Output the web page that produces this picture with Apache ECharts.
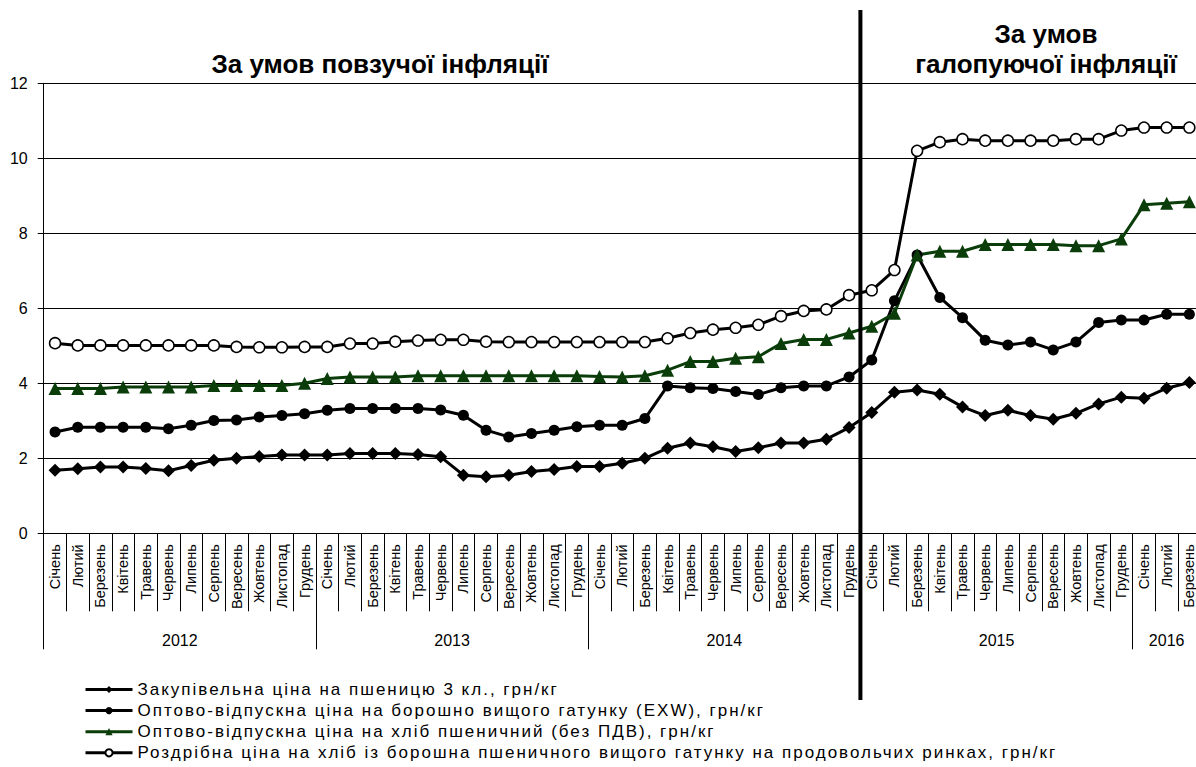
<!DOCTYPE html>
<html>
<head>
<meta charset="utf-8">
<script src="https://cdn.jsdelivr.net/npm/echarts@6/dist/echarts.min.js"></script>
<style>
html,body{margin:0;padding:0;background:#fff;}
#c{width:1196px;height:767px;}
</style>
</head>
<body>
<div id="c"></div>
<script>
var monthNames = ['Січень','Лютий','Березень','Квітень','Травень','Червень','Липень','Серпень','Вересень','Жовтень','Листопад','Грудень'];
var years = ['2012','2013','2014','2015','2016'];
var monthsPerYear = [12, 12, 12, 12, 3];
var yTicks = [0, 2, 4, 6, 8, 10, 12];

var seriesNames = [
  'Закупівельна ціна на пшеницю 3 кл., грн/кг',
  'Оптово-відпускна ціна на борошно вищого гатунку (EXW), грн/кг',
  'Оптово-відпускна ціна на хліб пшеничний (без ПДВ), грн/кг',
  'Роздрібна ціна на хліб із борошна пшеничного вищого гатунку на продовольчих ринках, грн/кг'
];

var wheat = [
  1.68, 1.72, 1.77, 1.77, 1.73, 1.67, 1.81, 1.95, 2.00, 2.05, 2.09, 2.09,
  2.09, 2.13, 2.13, 2.13, 2.10, 2.04, 1.55, 1.51, 1.55, 1.65, 1.70, 1.78,
  1.78, 1.87, 2.00, 2.27, 2.41, 2.31, 2.18, 2.28, 2.41, 2.41, 2.51, 2.82,
  3.22, 3.76, 3.82, 3.71, 3.37, 3.14, 3.28, 3.14, 3.04, 3.20, 3.45, 3.63,
  3.60, 3.87, 4.02
];
var flour = [
  2.70, 2.83, 2.83, 2.83, 2.83, 2.79, 2.88, 3.01, 3.02, 3.10, 3.14, 3.19,
  3.28, 3.33, 3.33, 3.33, 3.33, 3.29, 3.15, 2.75, 2.57, 2.66, 2.75, 2.84,
  2.88, 2.88, 3.06, 3.93, 3.88, 3.86, 3.78, 3.70, 3.88, 3.93, 3.93, 4.17,
  4.62, 6.20, 7.42, 6.29, 5.75, 5.15, 5.02, 5.10, 4.89, 5.10, 5.62, 5.69,
  5.69, 5.84, 5.84
];
var breadWholesale = [
  3.86, 3.86, 3.86, 3.90, 3.90, 3.90, 3.90, 3.94, 3.94, 3.94, 3.94, 4.00,
  4.13, 4.17, 4.17, 4.17, 4.20, 4.20, 4.20, 4.20, 4.20, 4.20, 4.20, 4.20,
  4.18, 4.17, 4.20, 4.35, 4.58, 4.58, 4.67, 4.71, 5.06, 5.17, 5.17, 5.34,
  5.52, 5.87, 7.42, 7.52, 7.52, 7.70, 7.70, 7.70, 7.70, 7.67, 7.67, 7.85,
  8.76, 8.80, 8.84
];
var breadRetail = [
  5.07, 5.01, 5.01, 5.01, 5.01, 5.01, 5.01, 5.01, 4.97, 4.96, 4.96, 4.97,
  4.97, 5.06, 5.06, 5.11, 5.14, 5.16, 5.16, 5.11, 5.10, 5.10, 5.10, 5.10,
  5.10, 5.10, 5.10, 5.20, 5.34, 5.43, 5.48, 5.56, 5.79, 5.93, 5.97, 6.35,
  6.48, 7.02, 10.20, 10.43, 10.51, 10.47, 10.47, 10.47, 10.47, 10.51, 10.51, 10.74,
  10.82, 10.82, 10.82
];

var titleLeft = 'За умов повзучої інфляції';
var titleRight = 'За умов\nгалопуючої інфляції';
var dividerAfterYears = 3; // divider placed after 2014

// build categories
var categories = [];
monthsPerYear.forEach(function (n) {
  for (var i = 0; i < n; i++) categories.push(monthNames[i]);
});
var total = categories.length;
var yearBounds = [0];
var yearCenters = [];
var acc = 0;
monthsPerYear.forEach(function (n) {
  yearCenters.push(acc + n / 2);
  acc += n;
  yearBounds.push(acc);
});

var FONT = 'Liberation Sans, Arial, sans-serif';

var chart = echarts.init(document.getElementById('c'), null, {renderer: 'svg'});

function lineSeries(name, data, color, symbol, size, fill, borderW) {
  return {
    name: name,
    type: 'line',
    data: data,
    xAxisIndex: 0,
    symbol: symbol,
    symbolSize: size,
    showAllSymbol: true,
    animation: false,
    lineStyle: {color: color, width: 3},
    itemStyle: {color: fill, borderColor: color, borderWidth: borderW},
    emphasis: {disabled: true}
  };
}

chart.setOption({
  animation: false,
  backgroundColor: '#fff',
  textStyle: {fontFamily: FONT},
  title: [
    {
      text: titleLeft, left: 375, top: 46, textAlign: 'center',
      textStyle: {fontFamily: FONT, fontSize: 26, fontWeight: 'bold', color: '#000'}
    },
    {
      text: titleRight, left: 1041, top: 14, textAlign: 'center',
      textStyle: {fontFamily: FONT, fontSize: 26, fontWeight: 'bold', color: '#000', lineHeight: 30}
    }
  ],
  legend: {
    orient: 'vertical',
    left: 84,
    top: 681,
    height: 110,
    padding: 0,
    itemWidth: 47,
    itemHeight: 9,
    itemGap: 4.1,
    lineStyle: {width: 3},
    textStyle: {fontFamily: FONT, fontSize: 17, lineHeight: 15, color: '#000'},
    data: seriesNames
  },
  grid: {left: 43.7, width: 1157, top: 83.3, bottom: 233.7, containLabel: false, outerBoundsMode: 'none'},
  xAxis: [
    {
      type: 'category',
      data: categories,
      boundaryGap: true,
      position: 'bottom',
      axisLine: {show: true, lineStyle: {color: '#000', width: 1}},
      axisTick: {show: true, length: 78, interval: 0, lineStyle: {color: '#000', width: 1}},
      axisLabel: {
        interval: 0, rotate: 90, margin: 11,
        fontFamily: FONT, fontSize: 14.5, color: '#000'
      },
      splitLine: {show: false}
    },
    {
      type: 'value',
      min: 0,
      max: total,
      position: 'bottom',
      axisLine: {show: false},
      axisTick: {show: true, length: 116, customValues: yearBounds, lineStyle: {color: '#000', width: 1}},
      axisLabel: {
        show: true, margin: 99, customValues: yearCenters,
        fontFamily: FONT, fontSize: 16, color: '#000',
        formatter: function (v) {
          var i = yearCenters.indexOf(v);
          return i >= 0 ? years[i] : '';
        }
      },
      splitLine: {show: false}
    }
  ],
  yAxis: {
    type: 'value',
    min: yTicks[0],
    max: yTicks[yTicks.length - 1],
    interval: 2,
    axisLine: {show: true, lineStyle: {color: '#000', width: 1}},
    axisTick: {show: true, length: 6, lineStyle: {color: '#000'}},
    axisLabel: {fontFamily: FONT, fontSize: 16, color: '#000', margin: 16},
    splitLine: {show: true, lineStyle: {color: '#000', width: 1}}
  },
  series: [
    lineSeries(seriesNames[0], wheat, '#000', 'diamond', 13, '#000', 0),
    lineSeries(seriesNames[1], flour, '#000', 'circle', 11, '#000', 0),
    lineSeries(seriesNames[2], breadWholesale, '#0a3d0a', 'triangle', 13, '#0a3d0a', 0),
    lineSeries(seriesNames[3], breadRetail, '#000', 'circle', 11, '#fff', 1.5)
  ]
});

var divX = chart.convertToPixel({xAxisIndex: 1}, yearBounds[dividerAfterYears]);
chart.setOption({
  graphic: [{
    type: 'line',
    z: 100,
    shape: {x1: divX, y1: 10, x2: divX, y2: 700},
    style: {stroke: '#000', lineWidth: 4}
  }]
});

// widen legend text spacing to match the reference typesetting
function spaceLegend() {
  var texts = document.querySelectorAll('#c svg text');
  texts.forEach(function (t) {
    if (seriesNames.indexOf(t.textContent) >= 0) {
      t.style.letterSpacing = '2px';
    }
  });
}
spaceLegend();
chart.on('finished', spaceLegend);
setTimeout(spaceLegend, 0);
</script>
</body>
</html>
